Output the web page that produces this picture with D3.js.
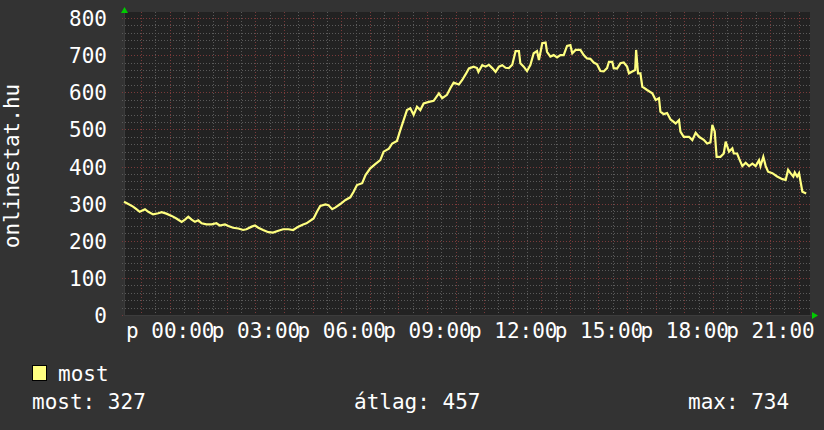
<!DOCTYPE html>
<html><head><meta charset="utf-8">
<script src="https://cdn.jsdelivr.net/npm/d3@7"></script>
<style>
html,body{margin:0;padding:0;background:#333333;}
svg{display:block;}
text{font-family:"DejaVu Sans Mono",monospace;fill:#ffffff;}
</style></head><body>
<svg id="c" width="824" height="430"></svg>
<script>
// time in minutes relative to midnight (negative = previous evening)
const times = [-96,-87,-77,-70,-63,-52,-45,-35,-24,-17,-7,4,14,25,32,39,46,53,60,67,77,88,98,105,116,123,133,144,154,161,172,179,186,196,207,217,228,238,249,259,270,280,287,
302,309,316,327,333,341,348,358,369,379,386,393,404,411,421,432,442,449,460,467,477,484,491,498,505,512,519,526,533,544,554,565,572,582,589,596,607,614,621,628,
638,645,648,656,663,670,677,684,691,698,705,712,719,726,733,736,743,750,757,764,771,775,782,789,792,799,806,813,820,827,834,841,845,852,862,869,876,883,890,897,904,911,918,922,929,932,939,946,953,960,964,971,977,979,983,988,992,
1002,1013,1020,1027,1030,1037,1044,1051,1062,1069,1072,1079,1090,1097,1104,1111,1121,1128,1135,1139,1144,1148,1156,1163,1167,1174,1181,1184,1191,1195,1202,1209,1216,1223,1230,1237,1240,1246,1251,1256,1265,1275,1286,1293,1298,1303,1309,1312,1317,1321,1328,1336];
const values = [305,299,292,285,278,285,278,271,274,277,273,267,260,251,257,265,257,251,255,247,244,244,247,241,244,240,235,233,229,231,238,241,235,229,223,222,227,231,231,229,238,244,247,
260,278,294,298,296,285,290,299,310,317,332,350,355,377,395,407,417,440,448,462,469,498,525,552,557,539,561,552,570,574,577,597,584,593,611,626,621,633,648,664,
669,665,655,673,669,674,665,655,669,673,666,665,674,711,711,678,669,657,673,705,711,687,732,734,709,696,700,694,700,700,725,727,705,714,714,700,691,690,680,675,657,656,665,682,682,665,664,678,680,669,651,656,660,714,651,651,615,
606,597,579,584,548,541,544,527,516,525,494,480,480,471,491,480,472,462,465,512,494,426,426,435,467,440,449,435,435,422,401,410,401,408,401,417,401,426,401,386,382,373,366,364,391,382,373,384,373,382,332,327];

const seriesName = "most";
const yTicks = [0,100,200,300,400,500,600,700,800];
const xLabelTicks = [0,180,360,540,720,900,1080,1260];
const xLabels = ["p 00:00","p 03:00","p 06:00","p 09:00","p 12:00","p 15:00","p 18:00","p 21:00"];
const yTitle = "onlinestat.hu";
const statLabels = ["most: 327","átlag: 457","max: 734"];

const FS = "21px";
const svg = d3.select("#c");
const L=124, R=810, T=18, B=315;
const x = d3.scaleLinear().domain([-96,1344]).range([L,R]);
const y = d3.scaleLinear().domain([0,800]).range([B,T]);

// plot background
svg.append("rect").attr("x",L).attr("y",T-6).attr("width",R-L).attr("height",B-T+6).attr("fill","#222222");

// grid
const g = svg.append("g");
const minorY = d3.range(0,801,20).filter(v=>v%100!==0);
const minorX = d3.range(-60,1344,30).filter(v=>v%60!==0);
const majorX = d3.range(-60,1344,60);
g.selectAll(".my").data(minorY).join("line")
 .attr("x1",L-2).attr("x2",R).attr("y1",d=>Math.round(y(d))+0.5).attr("y2",d=>Math.round(y(d))+0.5)
 .attr("stroke","#5a5a5a").attr("stroke-dasharray","1,2");
g.selectAll(".mx").data(minorX).join("line")
 .attr("x1",d=>Math.round(x(d))+0.5).attr("x2",d=>Math.round(x(d))+0.5).attr("y1",T-6).attr("y2",B+2)
 .attr("stroke","#5a5a5a").attr("stroke-dasharray","1,2");
g.selectAll(".My").data(yTicks).join("line")
 .attr("x1",L-2).attr("x2",R).attr("y1",d=>Math.round(y(d))+0.5).attr("y2",d=>Math.round(y(d))+0.5)
 .attr("stroke","#7a3a3a").attr("stroke-dasharray","1,2");
g.selectAll(".Mx").data(majorX).join("line")
 .attr("x1",d=>Math.round(x(d))+0.5).attr("x2",d=>Math.round(x(d))+0.5).attr("y1",T-6).attr("y2",B+3)
 .attr("stroke","#7a3a3a").attr("stroke-dasharray","1,2");

// axes lines
svg.append("line").attr("x1",L+0.5).attr("x2",L+0.5).attr("y1",B).attr("y2",10).attr("stroke","#3c3c3c");
svg.append("line").attr("x1",L).attr("x2",R+2).attr("y1",B+0.5).attr("y2",B+0.5).attr("stroke","#3c3c3c");
svg.append("path").attr("d",`M${L-3},${13} L${L+4},${13} L${L+0.5},${7} Z`).attr("fill","#00cc00");
svg.append("path").attr("d",`M${R+2},${B-3} L${R+2},${B+4} L${R+8},${B+0.5} Z`).attr("fill","#00cc00");

// y axis labels
const ya = d3.axisLeft(y).tickValues(yTicks).tickSize(0).tickPadding(0).tickFormat(d3.format("d"));
const yg = svg.append("g").attr("transform",`translate(107,0)`).call(ya);
yg.select(".domain").remove();
yg.selectAll("text").attr("font-size",FS).attr("fill","#fff").attr("font-family","DejaVu Sans Mono").attr("dy","0.36em");

// x axis labels
const xa = d3.axisBottom(x).tickValues(xLabelTicks).tickSize(0).tickPadding(0).tickFormat((d,i)=>xLabels[i]);
const xg = svg.append("g").attr("transform",`translate(0,323)`).call(xa);
xg.select(".domain").remove();
xg.selectAll("text").attr("font-size",FS).attr("fill","#fff").attr("font-family","DejaVu Sans Mono").attr("dy","0.71em");

// y title
svg.append("text").attr("transform","translate(18.5,166) rotate(-90)").attr("text-anchor","middle")
 .attr("font-size",FS).text(yTitle);

// data line
const pts = times.map((t,i)=>[t,values[i]]);
svg.append("path").datum(pts)
 .attr("d",d3.line().x(d=>x(d[0])).y(d=>y(d[1])))
 .attr("fill","none").attr("stroke","#ffff80").attr("stroke-width",2.2).attr("stroke-linejoin","miter");

// legend
svg.append("rect").attr("x",32.5).attr("y",365.5).attr("width",14).attr("height",15).attr("fill","#ffff80").attr("stroke","#000");
svg.append("text").attr("x",58).attr("y",381).attr("font-size",FS).text(seriesName);
svg.append("text").attr("x",32).attr("y",409).attr("font-size",FS).text(statLabels[0]);
svg.append("text").attr("x",354).attr("y",409).attr("font-size",FS).text(statLabels[1]);
svg.append("text").attr("x",688).attr("y",409).attr("font-size",FS).text(statLabels[2]);
</script></body></html>
